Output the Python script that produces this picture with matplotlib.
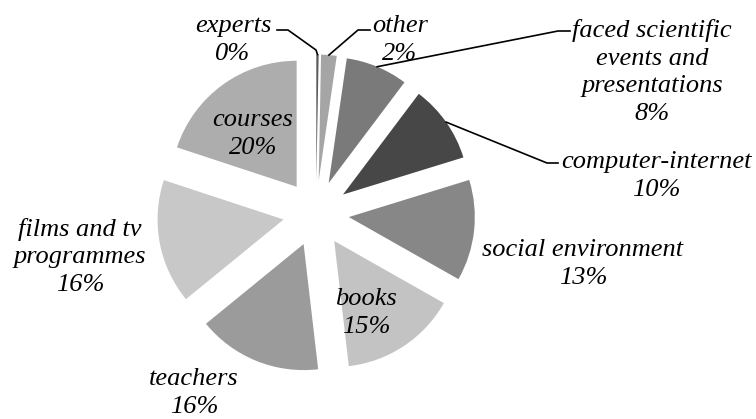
import numpy as np
import matplotlib
matplotlib.use("Agg")
import matplotlib.pyplot as plt

# Pie data (clockwise from 12 o'clock)
labels = ['experts', 'other', 'faced scientific\nevents and\npresentations',
          'computer-internet', 'social environment', 'books', 'teachers',
          'films and tv\nprogrammes', 'courses']
shares = [0.3, 2, 8, 10, 13, 15, 16, 16, 20]
colors = ['#5a5a5a', '#a5a5a5', '#7a7a7a', '#474747', '#878787',
          '#c3c3c3', '#9b9b9b', '#c8c8c8', '#adadad']

# label block centres in pixel coords (y from top)
label_pos = [(233, 40), (400, 40), (652, 72), (656, 176), (583, 264),
             (366, 313), (194, 393), (80, 257), (253, 134)]
# leader line points (from label side) in pixel coords, None = no leader
leaders = [[(277, 30), (288, 30), (316, 50)],
           [(370, 30), (358, 30)],
           [(570, 31), (558, 31)],
           [(558, 163), (547, 163)],
           None, None, None, None, None]

W, H = 756, 419
fig = plt.figure(figsize=(W / 100, H / 100), dpi=100)
ax = fig.add_axes([0, 0, 1, 1])

# explode is in data units here (pixels)
wedges, _ = ax.pie(shares, colors=colors, startangle=90, counterclock=False,
                   radius=126, center=(316, H - 213.5), explode=[33] * len(shares),
                   wedgeprops=dict(linewidth=0))

total = sum(shares)
font = dict(family='Liberation Serif', style='italic', size=19)
for lab, v, (x, y) in zip(labels, shares, label_pos):
    pct = f"{round(v / total * 100):.0f}%"
    ax.text(x, H - y, lab + "\n" + pct, ha='center', va='center',
            linespacing=1.35, **font)

for w, pts in zip(wedges, leaders):
    if pts is None:
        continue
    mid = np.deg2rad((w.theta1 + w.theta2) / 2)
    ax_x = w.center[0] + w.r * np.cos(mid)
    ax_y = w.center[1] + w.r * np.sin(mid)
    xs = [p[0] for p in pts] + [ax_x]
    ys = [H - p[1] for p in pts] + [ax_y]
    ax.plot(xs, ys, color='black', lw=1.2)

ax.set_xlim(0, W)
ax.set_ylim(0, H)
ax.set_aspect('equal')
ax.axis('off')
fig.savefig('out.png', dpi=100)
